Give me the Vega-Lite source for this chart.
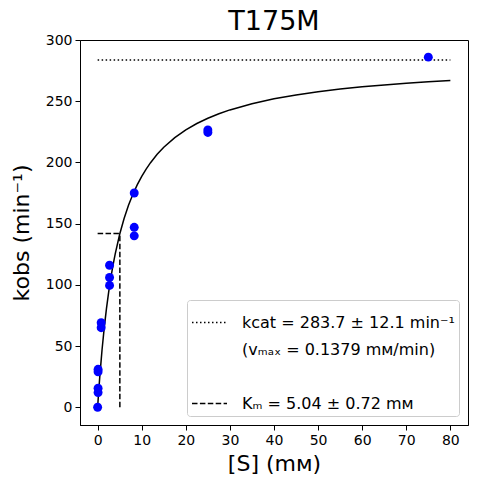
{
  "$schema": "https://vega.github.io/schema/vega-lite/v6.json",
  "width": 388,
  "height": 385,
  "autosize": {"type": "none"},
  "padding": {"left": 80, "top": 40, "right": 9, "bottom": 59},
  "background": "white",
  "title": {
    "text": "T175M",
    "font": "DejaVu Sans",
    "fontSize": 27,
    "fontWeight": "normal",
    "color": "black",
    "offset": -3
  },
  "layer": [
    {
      "data": {
        "values": [
          {"s": 0, "v": 0},
          {"s": 0.1, "v": 5.52},
          {"s": 0.25, "v": 13.41},
          {"s": 0.5, "v": 25.6},
          {"s": 1, "v": 46.97},
          {"s": 1.5, "v": 65.07},
          {"s": 2, "v": 80.6},
          {"s": 2.5, "v": 94.01},
          {"s": 3, "v": 105.86},
          {"s": 3.5, "v": 116.27},
          {"s": 4, "v": 125.53},
          {"s": 5, "v": 141.28},
          {"s": 6, "v": 154.18},
          {"s": 7, "v": 164.94},
          {"s": 8, "v": 174.05},
          {"s": 9, "v": 181.84},
          {"s": 10, "v": 188.63},
          {"s": 11, "v": 194.56},
          {"s": 12, "v": 199.79},
          {"s": 13.5, "v": 206.58},
          {"s": 15, "v": 212.35},
          {"s": 17.5, "v": 220.26},
          {"s": 20, "v": 226.6},
          {"s": 22.5, "v": 231.76},
          {"s": 25, "v": 236.1},
          {"s": 27.5, "v": 239.76},
          {"s": 30, "v": 242.89},
          {"s": 35, "v": 247.99},
          {"s": 40, "v": 251.95},
          {"s": 45, "v": 255.12},
          {"s": 50, "v": 257.72},
          {"s": 55, "v": 259.89},
          {"s": 60, "v": 261.72},
          {"s": 65, "v": 263.29},
          {"s": 70, "v": 264.65},
          {"s": 75, "v": 265.84},
          {"s": 80, "v": 266.89}
        ]
      },
      "mark": {"type": "line", "color": "black", "strokeWidth": 1.5},
      "encoding": {
        "x": {"field": "s", "type": "quantitative"},
        "y": {"field": "v", "type": "quantitative"}
      }
    },
    {
      "data": {
        "values": [
          {"s": 0, "s2": 80, "v": 283.7, "v2": 283.7, "line": "kcat"},
          {"s": 0, "s2": 5.04, "v": 141.85, "v2": 141.85, "line": "KM"},
          {"s": 5.04, "s2": 5.04, "v": 0, "v2": 141.85, "line": "KM"}
        ]
      },
      "mark": {"type": "rule", "color": "black", "strokeWidth": 1.5},
      "encoding": {
        "x": {"field": "s", "type": "quantitative"},
        "x2": {"field": "s2"},
        "y": {"field": "v", "type": "quantitative"},
        "y2": {"field": "v2"},
        "strokeDash": {
          "field": "line",
          "type": "nominal",
          "scale": {
            "domain": ["kcat", "vmax", "gap", "KM"],
            "range": [[1.5, 2.5], [0, 100], [0, 100], [5.5, 2.4]]
          },
          "legend": {
            "title": null,
            "orient": "bottom-right",
            "offset": 9,
            "symbolType": "stroke",
            "symbolSize": 1225,
            "symbolStrokeColor": "black",
            "symbolStrokeWidth": 1.5,
            "labelFont": "DejaVu Sans",
            "labelFontSize": 16,
            "labelColor": "black",
            "labelOffset": 14,
            "labelLimit": 400,
            "rowPadding": 0,
            "padding": 4,
            "strokeColor": "#cccccc",
            "fillColor": "rgba(255,255,255,0.8)",
            "cornerRadius": 3,
            "labelExpr": "datum.value == 'kcat' ? 'kcat = 283.7 ± 12.1 min⁻¹' : datum.value == 'vmax' ? '(vₘₐₓ = 0.1379 mм/min)' : datum.value == 'KM' ? 'Kₘ = 5.04 ± 0.72 mм' : ''"
          }
        }
      }
    },
    {
      "data": {
        "values": [
          {"s": 0, "v": 0},
          {"s": 0.1, "v": 12},
          {"s": 0.1, "v": 15.5},
          {"s": 0.1, "v": 29},
          {"s": 0.1, "v": 31},
          {"s": 0.8, "v": 65},
          {"s": 0.8, "v": 69},
          {"s": 2.7, "v": 99.5},
          {"s": 2.7, "v": 106},
          {"s": 2.7, "v": 116},
          {"s": 8.3, "v": 140},
          {"s": 8.3, "v": 147},
          {"s": 8.3, "v": 175},
          {"s": 25, "v": 224.5},
          {"s": 25, "v": 226.5},
          {"s": 75, "v": 286}
        ]
      },
      "mark": {"type": "point", "filled": true, "size": 80, "color": "#0000ff", "opacity": 1},
      "encoding": {
        "x": {
          "field": "s",
          "type": "quantitative",
          "scale": {"domain": [-4, 84], "nice": false, "zero": false},
          "axis": {"values": [0, 10, 20, 30, 40, 50, 60, 70, 80], "title": "[S] (mм)", "titlePadding": 6}
        },
        "y": {
          "field": "v",
          "type": "quantitative",
          "scale": {"domain": [-14.5, 300], "nice": false, "zero": false},
          "axis": {"values": [0, 50, 100, 150, 200, 250, 300], "title": "kobs (min⁻¹)", "titlePadding": 12}
        }
      }
    }
  ],
  "config": {
    "view": {"stroke": "black", "strokeWidth": 1},
    "axis": {
      "grid": false,
      "domainColor": "black",
      "tickColor": "black",
      "labelColor": "black",
      "titleColor": "black",
      "labelFont": "DejaVu Sans",
      "titleFont": "DejaVu Sans",
      "labelFontSize": 14,
      "titleFontSize": 22,
      "titleFontWeight": "normal",
      "tickSize": 5,
      "labelPadding": 3
    }
  }
}
